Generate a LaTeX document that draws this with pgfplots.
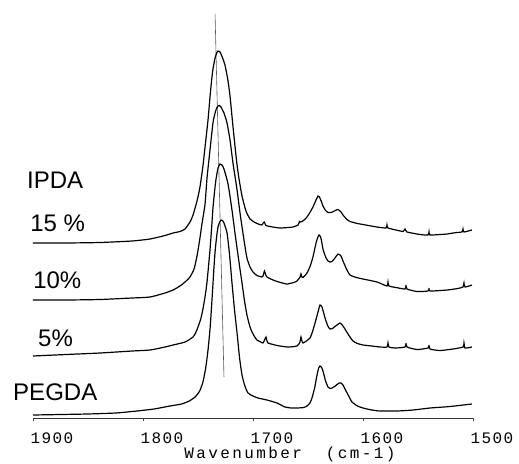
\documentclass[border=0pt]{standalone}
\usepackage{fontspec}
\setmainfont{Liberation Sans}
\newfontfamily\plotmono[LetterSpace=9]{Liberation Mono}
\newfontfamily\plotmonowide[LetterSpace=15]{Liberation Mono}
\usepackage{pgfplots}
\pgfplotsset{compat=1.18}

\pgfplotstableread{
x y
1900 3
1875 3.5
1850.9 4
1825 5
1805.5 7
1790 9
1775.5 12
1765 14
1758 17
1752.7 21
1748.5 27
1745.5 36
1743 50
1740.9 68
1739 90
1737.3 118
1735.8 145
1734.5 166
1733 182
1731.8 191
1730.3 196
1729.1 198
1727.8 197.5
1726.4 195
1723.6 185
1721.3 163
1719.1 135
1716.8 108
1714.5 85
1712.2 60
1710.0 43
1707.4 32
1704.5 25
1700 22
1695.5 20
1687.3 18
1678.2 15
1670.9 11
1665 10
1660.0 10
1654 10.5
1650.9 12
1648.3 15
1646.4 20
1644 30
1641.8 43
1640.3 50
1639.1 52
1637.8 51
1636.4 47
1634 37
1631.8 31
1630 29.5
1628.2 30
1625.8 31.5
1623.6 33.5
1621.6 35
1620.0 35
1618.2 33
1616.4 29
1613 22
1610.0 16
1605 12
1600.0 10
1592 8
1584.5 7
1569.1 7
1554.5 8
1539.1 10
1520.9 11.5
1501 14
}\pegda

\pgfplotstableread{
x y
1900 62
1870 63.5
1839.1 65
1810 67
1793.6 68
1780 71
1772.7 73
1761.8 76
1754.5 81
1751.8 86
1750.0 91
1747.5 99
1745.5 109
1743.5 122
1741.8 136
1739.1 168
1737.5 192
1736.4 210
1734.8 228
1733.6 239
1731.8 250
1730.0 254
1728.2 253
1726.4 249
1722.7 234
1719.1 208
1716.4 185
1713 158
1710.0 135
1707.7 117
1705.5 103
1703 92
1700.9 86
1698.4 81
1696.4 78
1693 76
1690.9 75
1689.1 79
1688.2 81
1687.3 77
1686.4 75
1680 73
1675.5 72
1668.2 71
1660.0 72
1657.3 76
1656.4 81
1655.5 77
1654.5 75
1651.5 77
1648.2 80
1646 86
1643.6 95
1640.9 106
1639.1 113
1637.3 111
1634.5 100
1632 92
1630.0 89
1627.8 89.5
1625.5 91.5
1623 93.5
1620.9 95
1618.8 93
1616.4 89
1612.5 82
1609.1 77
1605 74.5
1600.0 73
1592 72
1584.5 71
1578.2 71
1577.3 75
1576.4 71
1570.9 70
1561.8 71
1560.9 75
1560.0 71
1550.9 68.5
1540.9 70
1540.0 73
1539.1 69
1530.0 67.5
1518.2 69
1509.1 71
1508.2 75
1507.3 70
1501 71
}\five

\pgfplotstableread{
x y
1900 118
1870 118
1839.1 118.5
1810 120
1793.6 121
1780 125
1772.7 128
1766.4 132
1761.8 136
1757.3 141
1753.6 149
1750.9 162
1748.5 178
1746.4 194
1743.6 214
1741.8 240
1739.1 268
1736.4 295
1734.5 305
1733 310
1731.8 312
1730.4 312.5
1729.1 311
1726.4 305
1723.6 295
1720.9 278
1718.2 255
1714.5 228
1711.8 205
1708.2 178
1705.5 160
1702.7 151
1700.0 146
1696.4 142.5
1692 141
1690.9 142
1689.6 147
1688.4 143
1687.3 141
1681.8 138
1675 135.5
1669.1 134
1663 135.5
1660.0 137
1657.2 141
1656.4 144
1655.6 141
1654.5 140.5
1650.9 145
1648 152
1645.5 161
1642.7 175
1641 181
1640.0 183
1638.7 181.5
1637.5 176
1636.4 169
1634 161
1631.8 157
1630 156
1628.2 156.5
1625.5 160
1622.7 164
1620.0 162
1618.2 157
1615 149
1611.8 143
1606 140.5
1600.0 139
1587.3 136
1578.2 132
1577.3 136
1576.4 132
1570 130.5
1561.8 129
1560.9 133
1560.0 129
1550.9 126.5
1540.9 127
1540.0 130
1539.1 127
1523.6 128
1514 129.5
1509.1 131
1508.2 135
1507.3 131
1501 133
}\ten

\pgfplotstableread{
x y
1900 175
1870 175
1839.1 175.5
1810 177
1793.6 179
1780 182.5
1772.7 185
1766.4 186.5
1761.8 189
1757.3 196
1754.5 203
1750.9 217
1748.2 231
1745.5 252
1743.6 271
1740.9 298
1739.1 321
1737.6 338
1736.4 349
1734.5 360
1733 365
1731.8 367
1730.4 366.5
1729.1 364
1727.3 359
1725.5 353
1723 339
1720.9 322
1718.6 296
1716.4 272
1714.5 253
1712.7 239
1710.0 222
1706.4 207
1702.7 199
1699 196
1696.4 194.5
1692 193
1690.5 195.5
1689.6 196
1688.2 192.5
1682 191
1675.5 190
1668 190.5
1663.6 191
1659 193
1657.8 196.5
1657.0 196
1655.5 196.5
1653 198.5
1650.9 201
1648 206
1645.5 211
1642.7 218
1640.9 222
1639.6 221
1638 217
1636.4 212
1634 207.5
1631.8 205.5
1629 205.5
1626 207
1623.5 208.5
1622 208
1620 206
1618.2 203
1615 199
1611.8 196.5
1605 194.5
1600.0 193.5
1587.3 191
1579.1 190
1578.2 193
1577.3 190
1570 188
1563.6 186.5
1561.8 189
1560.0 186
1548.2 183.5
1540.9 183
1540.0 186
1539.1 183
1530 183.5
1523.6 184
1515 185.5
1510.0 186
1509.1 189
1508.2 186
1501 188
}\fifteen

\pgfplotstableread{
x y
1734.5 404
1726.4 41
}\marker

\begin{document}
\begin{tikzpicture}
\begin{axis}[
  x=0.825pt, y=0.75pt,
  x dir=reverse,
  xmin=1500, xmax=1900, ymin=0, ymax=410,
  axis x line=bottom,
  axis y line=none,
  axis line style={-, line width=0.5pt, black!80},
  xtick={1900,1800,1700,1600,1500},
  xticklabels={1900,1800,1700,1600,1500},
  tick align=outside,
  major tick length=2.5pt,
  tick style={black!70, line width=0.4pt},
  xticklabel style={font=\plotmono\fontsize{12}{12}\selectfont, anchor=west, inner sep=0pt, xshift=-2pt, yshift=-12.75pt},
  clip=false,
]
\path (axis cs:1930,-45) rectangle (axis cs:1458.2,418);
\addplot[black!65, line width=0.45pt] table {\marker};
\addplot[black, line width=0.9pt, smooth, tension=0.35] table {\pegda};
\addplot[black, line width=0.9pt, smooth, tension=0.35] table {\five};
\addplot[black, line width=0.9pt, smooth, tension=0.35] table {\ten};
\addplot[black, line width=0.9pt, smooth, tension=0.35] table {\fifteen};
\node[anchor=west, inner sep=0pt, font=\fontsize{18}{18}\selectfont] at (axis cs:1905.5,238) {IPDA};
\node[anchor=west, inner sep=0pt, font=\fontsize{18}{18}\selectfont] at (axis cs:1902.7,194.5) {15 \%};
\node[anchor=west, inner sep=0pt, font=\fontsize{18}{18}\selectfont] at (axis cs:1900,137.5) {10\%};
\node[anchor=west, inner sep=0pt, font=\fontsize{18}{18}\selectfont] at (axis cs:1895.5,80) {5\%};
\node[anchor=west, inner sep=0pt, font=\fontsize{18}{18}\selectfont] at (axis cs:1918.2,25.5) {PEGDA};
\node[anchor=center, inner sep=0pt, font=\plotmonowide\fontsize{12}{12}\selectfont] at (axis cs:1666.4,-36) {Wavenumber\ \ (cm-1)};
\end{axis}
\end{tikzpicture}
\end{document}
